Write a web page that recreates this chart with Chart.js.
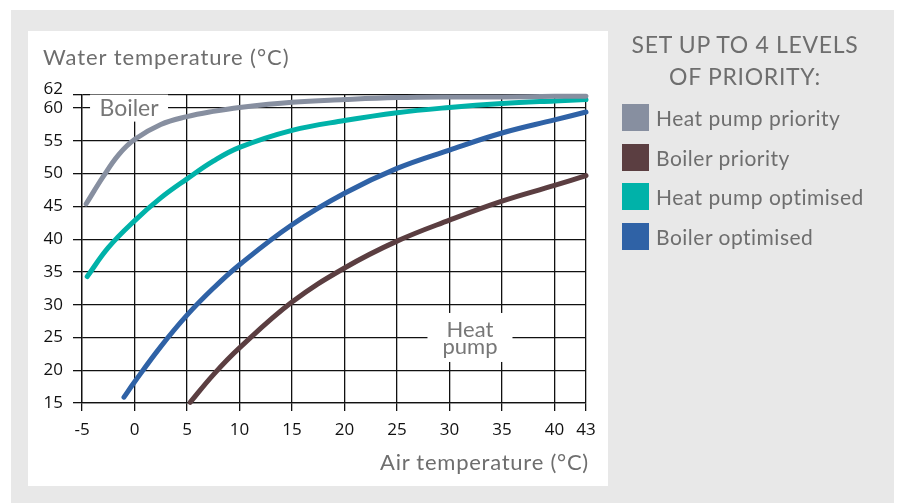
<!DOCTYPE html>
<html>
<head>
<meta charset="utf-8">
<script src="https://cdn.jsdelivr.net/npm/chart.js@4"></script>
<style>
html,body{margin:0;padding:0;background:#fff;width:899px;height:503px;overflow:hidden;font-family:Lato,sans-serif}
#bg{position:absolute;left:11px;top:10px;width:883px;height:493px;background:#e8e8e8}
#panel{position:absolute;left:28px;top:31px;width:580px;height:455px;background:#fff}
#wrap{position:absolute;left:0;top:0;width:899px;height:503px}
.t{position:absolute;color:#6e6e6e;white-space:nowrap;line-height:1}
#ytitle{left:43px;top:46px;font-size:22px;letter-spacing:0.95px}
#xtitle{right:310px;top:451px;font-size:22px;letter-spacing:0.75px}
#ltitle{left:620px;top:28px;width:250px;text-align:center;font-size:23px;line-height:32px;letter-spacing:0.7px}
.item{position:absolute;left:622px;height:27px;line-height:27px;font-size:21px;letter-spacing:0.5px;color:#6e6e6e;white-space:nowrap}
.item span{display:inline-block;width:27px;height:27px;vertical-align:top;margin-right:7px}
</style>
</head>
<body>
<div id="bg"></div>
<div id="panel"></div>
<div id="wrap"><canvas id="c" width="899" height="503"></canvas></div>
<div class="t" id="ytitle">Water temperature (°C)</div>
<div class="t" id="xtitle">Air temperature (°C)</div>
<div class="t" id="ltitle">SET UP TO 4 LEVELS<br>OF PRIORITY:</div>
<div id="legend"></div>
<script>
// ---- data ----
const seriesNames = ["Heat pump priority", "Boiler priority", "Heat pump optimised", "Boiler optimised"];
const seriesColors = ["#878fa0", "#5b3e41", "#00b2a9", "#2f62a6"];

const xTicks = [-5, 0, 5, 10, 15, 20, 25, 30, 35, 40, 43];
const yTicks = [15, 20, 25, 30, 35, 40, 45, 50, 55, 60, 62];

const heatPumpPriorityX = [-4.6, -3, -1.5, 0, 2.5, 5, 7.5, 10, 15, 20, 25, 30, 35, 40, 43];
const heatPumpPriorityY = [45.4, 49.5, 52.9, 55.2, 57.5, 58.7, 59.5, 60.1, 60.9, 61.3, 61.6, 61.7, 61.7, 61.8, 61.8];

const boilerPriorityX = [5.3, 7.5, 10, 15, 20, 25, 30, 35, 40, 43];
const boilerPriorityY = [15.1, 19.3, 23.4, 30.4, 35.6, 39.7, 42.9, 45.8, 48.2, 49.7];

const heatPumpOptimisedX = [-4.5, -2.5, 0, 2.5, 5, 7.5, 10, 15, 20, 25, 30, 35, 40, 43];
const heatPumpOptimisedY = [34.3, 38.7, 42.8, 46.3, 49.2, 51.9, 54.0, 56.6, 58.1, 59.3, 60.1, 60.7, 61.1, 61.3];

const boilerOptimisedX = [-1, 0, 2.5, 5, 7.5, 10, 15, 20, 25, 30, 35, 40, 43];
const boilerOptimisedY = [15.9, 18.2, 23.6, 28.4, 32.5, 36.1, 42.2, 47.0, 50.8, 53.6, 56.2, 58.2, 59.4];

const inPlotLabels = [
  { lines: ["Boiler"], x: -0.52, y: 60, boxW: 78, boxH: 27, size: 23, lineGap: 0 },
  { lines: ["Heat", "pump"], x: 31.95, y: 25, boxW: 85, boxH: 49, size: 22, lineGap: 17.5 }
];

// ---- legend (HTML) ----
const legendTops = [104, 144, 183, 223];
const legendEl = document.getElementById('legend');
seriesNames.forEach((n, i) => {
  const d = document.createElement('div');
  d.className = 'item';
  d.style.top = legendTops[i] + 'px';
  d.innerHTML = '<span style="background:' + seriesColors[i] + '"></span>' + n;
  legendEl.appendChild(d);
});

const pts = (xs, ys) => xs.map((x, i) => ({ x: x, y: ys[i] }));
const seriesData = [
  pts(heatPumpPriorityX, heatPumpPriorityY),
  pts(boilerPriorityX, boilerPriorityY),
  pts(heatPumpOptimisedX, heatPumpOptimisedY),
  pts(boilerOptimisedX, boilerOptimisedY)
];

const labelPlugin = {
  id: 'labelBoxes',
  beforeDatasetsDraw(chart) {
    const ctx = chart.ctx;
    const sx = chart.scales.x, sy = chart.scales.y;
    ctx.save();
    inPlotLabels.forEach(l => {
      const cx = sx.getPixelForValue(l.x);
      const cy = sy.getPixelForValue(l.y);
      ctx.fillStyle = '#fff';
      ctx.fillRect(cx - l.boxW / 2, cy - l.boxH / 2, l.boxW, l.boxH);
      ctx.fillStyle = '#777';
      ctx.font = l.size + 'px Lato';
      ctx.textAlign = 'center';
      ctx.textBaseline = 'alphabetic';
      const n = l.lines.length;
      l.lines.forEach((t, i) => {
        const base = cy + l.size * 0.36 + (i - (n - 1) / 2) * l.lineGap;
        ctx.fillText(t, cx, base);
      });
    });
    ctx.restore();
  }
};

const gridCommon = { color: '#111', lineWidth: 1.3, drawTicks: true };

new Chart(document.getElementById('c'), {
  type: 'scatter',
  data: {
    datasets: seriesNames.map((n, i) => ({
      label: n,
      data: seriesData[i],
      showLine: true,
      borderColor: seriesColors[i],
      backgroundColor: seriesColors[i],
      borderWidth: 5,
      borderCapStyle: 'round',
      pointRadius: 0,
      pointHoverRadius: 0,
      tension: 0.4,
      clip: 6
    }))
  },
  options: {
    responsive: false,
    animation: false,
    events: [],
    layout: { padding: { left: 0, top: 95, right: 313, bottom: 0 } },
    plugins: { legend: { display: false }, tooltip: { enabled: false } },
    scales: {
      x: {
        type: 'linear', min: -5, max: 43,
        afterBuildTicks: s => { s.ticks = xTicks.map(v => ({ value: v })); },
        afterFit: s => { s.height = 100; },
        grid: Object.assign({}, gridCommon, { tickLength: 8 }),
        border: { color: '#111', width: 1.3 },
        ticks: { color: '#111', font: { family: 'Open Sans', size: 17 }, padding: 9, autoSkip: false, maxRotation: 0 }
      },
      y: {
        type: 'linear', min: 15, max: 62,
        afterBuildTicks: s => { s.ticks = yTicks.map(v => ({ value: v })); },
        afterFit: s => { s.width = 82; },
        grid: Object.assign({}, gridCommon, { tickLength: 9 }),
        border: { color: '#111', width: 1.3 },
        ticks: {
          color: '#111', padding: 10, autoSkip: false,
          callback: v => (v === 62 ? [String(v), ''] : String(v)),
          font: ctx => (ctx.tick && ctx.tick.value === 62)
            ? { family: 'Open Sans', size: 17, lineHeight: 0.7 }
            : { family: 'Open Sans', size: 17 }
        }
      }
    }
  },
  plugins: [labelPlugin]
});
</script>
</body>
</html>
